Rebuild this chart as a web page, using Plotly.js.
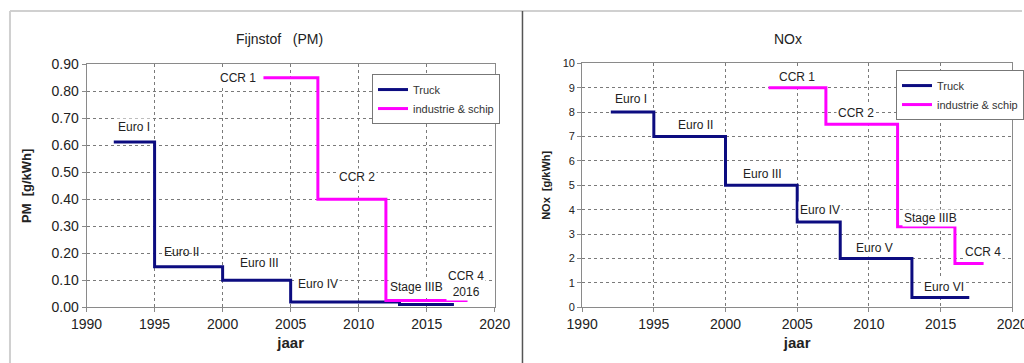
<!DOCTYPE html>
<html>
<head>
<meta charset="utf-8">
<script src="https://cdn.plot.ly/plotly-3.0.1.min.js"></script>
<style>
  html, body { margin: 0; padding: 0; background: #fff; }
  #chart { width: 1024px; height: 363px; }
</style>
</head>
<body>
<div id="chart"></div>
<script>
// Emission limits, step series: each value holds from its year to the next year
const truckPmYears = [1992, 1995, 2000, 2005, 2013, 2017];
const truckPmValues = [0.612, 0.15, 0.10, 0.02, 0.01, 0.01];
const shipPmYears = [2003, 2007, 2012, 2018];
const shipPmValues = [0.85, 0.40, 0.025, 0.025];

const truckNoxYears = [1992, 1995, 2000, 2005, 2008, 2013, 2017];
const truckNoxValues = [8, 7, 5, 3.5, 2, 0.4, 0.4];
const shipNoxYears = [2003, 2007, 2012, 2016, 2018];
const shipNoxValues = [9, 7.5, 3.3, 1.8, 1.8];

const seriesNames = ['Truck', 'industrie & schip'];

// Stage labels: [text, year, value, white background]
const pmLabels = [
  ['CCR 1', 2001.1, 0.849, true],
  ['Euro I', 1993.5, 0.667, true],
  ['Euro II', 1997.0, 0.204, false],
  ['Euro III', 2002.7, 0.165, true],
  ['Euro IV', 2007.0, 0.085, true],
  ['CCR 2', 2009.9, 0.481, true],
  ['Stage IIIB', 2014.25, 0.074, true],
  ['CCR 4<br>2016', 2017.9, 0.087, true]
];
const noxLabels = [
  ['CCR 1', 2005.0, 9.45, true],
  ['Euro I', 1993.4, 8.55, true],
  ['Euro II', 1997.9, 7.47, true],
  ['Euro III', 2002.6, 5.48, true],
  ['CCR 2', 2009.1, 7.98, true],
  ['Euro IV', 2006.6, 3.98, true],
  ['Stage IIIB', 2014.3, 3.65, true],
  ['Euro V', 2010.4, 2.42, true],
  ['CCR 4', 2017.95, 2.27, true],
  ['Euro VI', 2015.25, 0.84, true]
];

const pmTicks = [0, 0.1, 0.2, 0.3, 0.4, 0.5, 0.6, 0.7, 0.8, 0.9];
const noxTicks = [0, 1, 2, 3, 4, 5, 6, 7, 8, 9, 10];
const yearTicks = [1990, 1995, 2000, 2005, 2010, 2015, 2020];

const FONT = 'Liberation Sans, Arial, sans-serif';
const TRUCK = '#0c0c80';
const SHIP = '#ff00ff';

function step(x, y, name, color, xa, ya, legend) {
  return {
    x: x, y: y, name: name, type: 'scatter', mode: 'lines',
    line: { shape: 'hv', color: color, width: 3 },
    xaxis: xa, yaxis: ya, legend: legend, hoverinfo: 'x+y'
  };
}

const data = [
  step(truckPmYears, truckPmValues, seriesNames[0], TRUCK, 'x', 'y', 'legend'),
  step(shipPmYears, shipPmValues, seriesNames[1], SHIP, 'x', 'y', 'legend'),
  step(truckNoxYears, truckNoxValues, seriesNames[0], TRUCK, 'x2', 'y2', 'legend2'),
  step(shipNoxYears, shipNoxValues, seriesNames[1], SHIP, 'x2', 'y2', 'legend2')
];

function labels(list, xr, yr) {
  return list.map(function (l) {
    return {
      text: l[0], x: l[1], y: l[2], xref: xr, yref: yr, showarrow: false,
      font: { family: FONT, size: 12, color: '#222' },
      bgcolor: l[3] ? '#fff' : 'rgba(0,0,0,0)', borderpad: 1
    };
  });
}

const gridStyle = {
  showgrid: true, gridcolor: '#7a7a7a', griddash: 'dot', gridwidth: 1,
  showline: true, linecolor: '#8a8a8a', linewidth: 1, mirror: true,
  ticks: 'outside', ticklen: 4, tickcolor: '#8a8a8a', zeroline: false,
  fixedrange: true, ticklabeloverflow: 'allow'
};

function xAxis(domain, anchor) {
  return Object.assign({}, gridStyle, {
    domain: domain, anchor: anchor, range: [1990, 2020],
    tickvals: yearTicks, ticktext: yearTicks.map(String),
    tickfont: { family: FONT, size: 14, color: '#222' },
    title: { text: '<b>jaar</b>', font: { family: FONT, size: 15, color: '#222' }, standoff: 6 }
  });
}

const layout = {
  width: 1024, height: 363,
  margin: { l: 0, r: 0, t: 0, b: 0 },
  paper_bgcolor: '#fff', plot_bgcolor: '#fff',
  showlegend: true,
  xaxis: xAxis([0.0847, 0.4841], 'y'),
  yaxis: Object.assign({}, gridStyle, {
    domain: [0.1534, 0.8228], anchor: 'x', range: [0, 0.9],
    tickvals: pmTicks, ticktext: pmTicks.map(function (v) { return v.toFixed(2); }),
    tickfont: { family: FONT, size: 14, color: '#222' },
    title: { text: '<b>PM  [g/kWh]</b>', font: { family: FONT, size: 13, color: '#222' }, standoff: 16 }
  }),
  xaxis2: xAxis([0.5696, 0.9905], 'y2'),
  yaxis2: Object.assign({}, gridStyle, {
    domain: [0.1534, 0.8256], anchor: 'x2', range: [0, 10],
    tickvals: noxTicks, ticktext: noxTicks.map(String),
    tickfont: { family: FONT, size: 11, color: '#222' },
    title: { text: '<b>NOx  [g/kWh]</b>', font: { family: FONT, size: 11, color: '#222' }, standoff: 9 }
  }),
  legend: {
    x: 0.364, y: 0.796, xanchor: 'left', yanchor: 'top',
    bgcolor: '#fff', bordercolor: '#777', borderwidth: 1,
    font: { family: FONT, size: 11, color: '#333' }, itemwidth: 30,
    tracegroupgap: 0
  },
  legend2: {
    x: 0.8767, y: 0.807, xanchor: 'left', yanchor: 'top',
    bgcolor: '#fff', bordercolor: '#777', borderwidth: 1,
    font: { family: FONT, size: 11, color: '#333' }, itemwidth: 30,
    tracegroupgap: 0
  },
  annotations: [
    { text: 'Fijnstof   (PM)', x: 0.2734, y: 1 - 39 / 363, xref: 'paper', yref: 'paper',
      xanchor: 'center', yanchor: 'middle',
      showarrow: false, font: { family: FONT, size: 14, color: '#222' } },
    { text: 'NOx', x: 0.7715, y: 1 - 39 / 363, xref: 'paper', yref: 'paper',
      xanchor: 'center', yanchor: 'middle',
      showarrow: false, font: { family: FONT, size: 14, color: '#222' } }
  ].concat(labels(pmLabels, 'x', 'y'), labels(noxLabels, 'x2', 'y2')),
  shapes: [
    // panel frame and divider
    { type: 'line', xref: 'paper', yref: 'paper', x0: 10 / 1024, x1: 1, y0: 1 - 11 / 363, y1: 1 - 11 / 363,
      line: { color: '#d0d0d0', width: 2 } },
    { type: 'line', xref: 'paper', yref: 'paper', x0: 10 / 1024, x1: 10 / 1024, y0: 0, y1: 1 - 11 / 363,
      line: { color: '#d0d0d0', width: 2 } },
    { type: 'line', xref: 'paper', yref: 'paper', x0: 523.5 / 1024, x1: 523.5 / 1024, y0: 0, y1: 1 - 11 / 363,
      line: { color: '#555', width: 1.5 } }
  ]
};

Plotly.newPlot('chart', data, layout, { displayModeBar: false, staticPlot: true });
</script>
</body>
</html>
